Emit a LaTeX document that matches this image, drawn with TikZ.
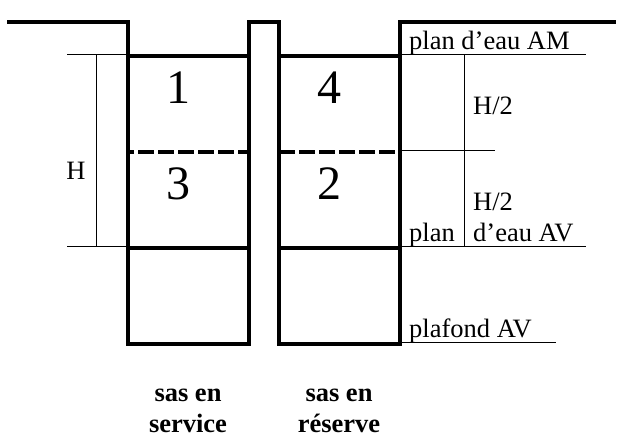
\documentclass[tikz,border=0pt]{standalone}
\usepackage{fontspec}
\setmainfont{Liberation Serif}
\tikzset{
  wall/.style={line width=3.9pt,line cap=butt,line join=miter},
  dashwall/.style={line width=3.6pt,dash pattern=on 16pt off 4pt},
  thinline/.style={line width=1pt},
  lab/.style={anchor=base west,inner sep=0pt,font=\fontsize{26.5}{28}\selectfont},
  num/.style={anchor=base,inner sep=0pt,font=\fontsize{48}{50}\selectfont},
  captext/.style={anchor=base,inner sep=0pt,font=\bfseries\fontsize{26.5}{28}\selectfont}
}
\begin{document}
\begin{tikzpicture}[x=1pt,y=-1pt]
\useasboundingbox[fill=white] (0,0) rectangle (627,438);
% walls
\draw[wall] (7,22) -- (128,22) -- (128,344) -- (249,344) -- (249,22) -- (279,22) -- (279,344) -- (400,344) -- (400,22) -- (616,22);
\draw[wall] (128,56) -- (249,56) (279,56) -- (400,56);
\draw[wall] (128,248) -- (249,248) (279,248) -- (400,248);
\draw[dashwall,dash phase=12pt] (130,152) -- (249,152);
\draw[dashwall,dash phase=2pt] (281,152) -- (398,152);
% thin dimension lines
\coordinate (la) at (67,54.5); \coordinate (lb) at (128,54.5);
\coordinate (lc) at (67,246.5); \coordinate (ld) at (128,246.5);
\coordinate (le) at (96.5,54.5); \coordinate (lf) at (96.5,246.5);
\draw[thinline] (la) -- (lb) (lc) -- (ld) (le) -- (lf);
\coordinate (ra) at (400,54.5); \coordinate (rb) at (586,54.5);
\coordinate (rc) at (400,150.5); \coordinate (rd) at (495,150.5);
\coordinate (re) at (400,246.5); \coordinate (rf) at (586,246.5);
\coordinate (rg) at (400,342.5); \coordinate (rh) at (556,342.5);
\coordinate (ri) at (464,54.5); \coordinate (rj) at (464,246.5);
\draw[thinline] (ra) -- (rb) (rc) -- (rd) (re) -- (rf) (rg) -- (rh) (ri) -- (rj);
% labels
\node[num] (n1) at (178,103.5) {1};
\node[num] (n3) at (178,199.5) {3};
\node[num] (n4) at (329,103.5) {4};
\node[num] (n2) at (329,199.5) {2};
\node[lab,anchor=base] (h) at (76,180) {H};
\node[lab] (am) at (409,50) {plan d’eau AM};
\node[lab] (h1) at (473,115) {H/2};
\node[lab] (h2) at (473,211) {H/2};
\node[lab] (plan) at (409,242) {plan};
\node[lab] (av) at (473,242) {d’eau AV};
\node[lab] (pl) at (409,338) {plafond AV};
\node[captext] (s1) at (188,402) {sas en};
\node[captext] (s2) at (188,432) {service};
\node[captext] (r1) at (339,402) {sas en};
\node[captext] (r2) at (339,432) {réserve};
\end{tikzpicture}
\end{document}
